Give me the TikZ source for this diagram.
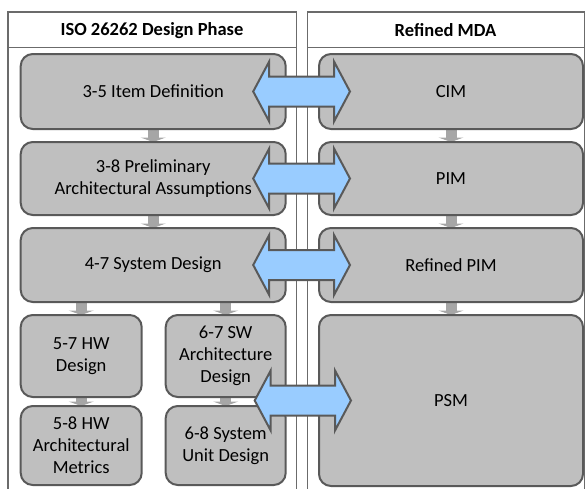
\documentclass[tikz,border=0pt]{standalone}
\usepackage{fontspec}
\setmainfont{Carlito}
\usetikzlibrary{calc,backgrounds,arrows.meta}
\definecolor{boxfill}{HTML}{BFBFBF}
\definecolor{boxline}{HTML}{595959}
\definecolor{frameline}{HTML}{6B6B6B}
\definecolor{smallarr}{HTML}{A6A6A6}
\definecolor{blu}{HTML}{99CCFF}
\tikzset{
  box/.style={draw=boxline, line width=2pt, fill=boxfill, rounded corners=12pt,
    outer sep=0pt, inner sep=2pt, align=center, text=black,
    font=\fontsize{18.5}{22}\selectfont},
  hdr/.style={font=\fontsize{18.5}{22}\selectfont\bfseries, inner sep=0pt},
  frm/.style={draw=frameline, line width=1.5pt},
  down/.style={draw=smallarr, line width=11pt,
    -{Triangle[width=25pt,length=4.5pt]}},
  bluarr/.style={draw=boxline, line width=2pt, fill=blu, line join=miter}
}
\newcommand\dblarr[2]{%
  \draw[bluarr] (#1) -- ++(16,-30) -- ++(0,15) -- ($(#2)+(-16,-15)$) -- ++(0,-15)
    -- (#2) -- ++(-16,30) -- ++(0,-15) -- ($(#1)+(16,15)$) -- ++(0,15) -- cycle;}
\begin{document}
\begin{tikzpicture}[x=1pt,y=-1pt]
\useasboundingbox (0,0) rectangle (585,488);
\clip (0,0) rectangle (585,488);
% headers
\node[hdr] (h1) at (152,30.5) {ISO 26262 Design Phase};
\node[hdr] (h2) at (445.5,30.5) {Refined MDA};
% left boxes
\node[box, minimum width=265pt, minimum height=75pt] (item) at (153.2,91.5) {3-5 Item Definition};
\node[box, minimum width=265pt, minimum height=73pt] (prelim) at (153.2,178.5) {3-8 Preliminary\\Architectural Assumptions};
\node[box, minimum width=265pt, minimum height=74pt] (sysdes) at (153.2,265) {4-7 System Design};
\node[box, minimum width=121pt, minimum height=82pt] (hwdes) at (81.2,356) {5-7 HW\\Design};
\node[box, minimum width=120pt, minimum height=82pt] (swarch) at (225.7,356) {6-7 SW\\Architecture\\Design};
\node[box, minimum width=121pt, minimum height=79pt] (hwmet) at (81.2,445.5) {5-8 HW\\Architectural\\Metrics};
\node[box, minimum width=120pt, minimum height=79pt] (sysunit) at (225.7,445.5) {6-8 System\\Unit Design};
% right boxes
\node[box, minimum width=264pt, minimum height=75pt] (cim) at (451,91.5) {CIM};
\node[box, minimum width=264pt, minimum height=73pt] (pim) at (451,178.5) {PIM};
\node[box, minimum width=264pt, minimum height=74pt] (rpim) at (451,265) {Refined PIM};
\node[box, minimum width=264pt, minimum height=171pt] (psm) at (451,400.5) {PSM};
\begin{scope}[on background layer]
  % frames
  \draw[frm] (8,500) -- (8,12) -- (296.5,12) -- (296.5,500);
  \draw[frm] (8,47.5) -- (296.5,47.5);
  \draw[frm] (307.5,500) -- (307.5,12) -- (584.5,12) -- (584.5,500);
  \draw[frm] (307.5,47.5) -- (584.5,47.5);
  % small down arrows
  \draw[down] (item.south) -- (prelim.north);
  \draw[down] (prelim.south) -- (sysdes.north);
  \draw[down] (sysdes.south -| hwdes.north) -- (hwdes.north);
  \draw[down] (sysdes.south -| swarch.north) -- (swarch.north);
  \draw[down] (hwdes.south) -- (hwmet.north);
  \draw[down] (swarch.south) -- (sysunit.north);
  \draw[down] (cim.south) -- (pim.north);
  \draw[down] (pim.south) -- (rpim.north);
  \draw[down] (rpim.south) -- (psm.north);
\end{scope}
% blue double arrows
\coordinate (l1) at ($(item.east)+(-32.5,0)$);
\coordinate (r1) at ($(cim.west)+(31,0)$);
\coordinate (l2) at ($(prelim.east)+(-32.5,0)$);
\coordinate (r2) at ($(pim.west)+(31,0)$);
\coordinate (l3) at ($(sysdes.east)+(-32.5,0)$);
\coordinate (r3) at ($(rpim.west)+(31,0)$);
\coordinate (l4) at ($(swarch.east |- psm.west)+(-31,0)$);
\coordinate (r4) at ($(psm.west)+(32,0)$);
\dblarr{l1}{r1}
\dblarr{l2}{r2}
\dblarr{l3}{r3}
\dblarr{l4}{r4}
\end{tikzpicture}
\end{document}
